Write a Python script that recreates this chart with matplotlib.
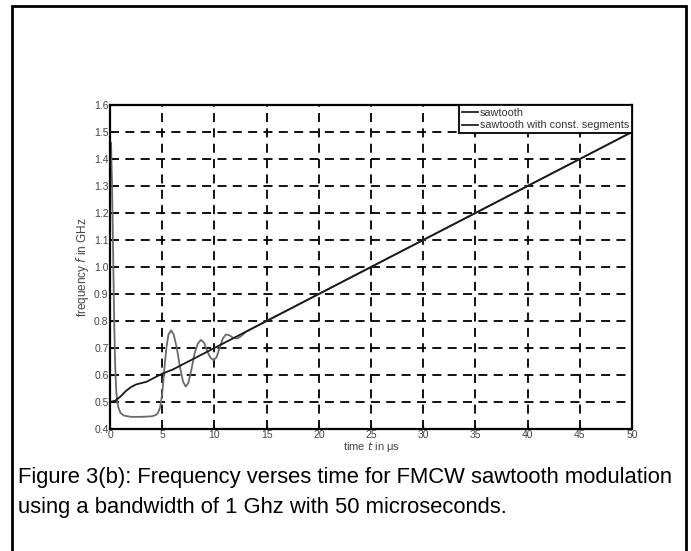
import matplotlib
matplotlib.use("Agg")
import matplotlib.pyplot as plt
from matplotlib.patches import Rectangle

plt.rcParams['font.family'] = ['Liberation Sans', 'DejaVu Sans']

# sawtooth (black)
t_saw = [0, 0.5, 1, 1.5, 2, 2.5, 3, 3.5, 4, 4.5, 5, 6, 7, 8, 10, 15, 20, 25, 30, 35, 40, 45, 50]
f_saw = [0.50, 0.505, 0.52, 0.54, 0.555, 0.565, 0.57, 0.575, 0.585, 0.595, 0.605, 0.62, 0.64, 0.66,
         0.70, 0.80, 0.90, 1.00, 1.10, 1.20, 1.30, 1.40, 1.50]

# sawtooth with const. segments (gray)
t_const = [0.1, 0.2, 0.3, 0.4, 0.5, 0.6, 0.7, 0.8, 1.0, 1.3, 2, 3, 4, 4.4, 4.6, 4.8, 5.0, 5.2, 5.4,
           5.6, 5.85, 6.1, 6.4, 6.7, 7.0, 7.25, 7.5, 7.8, 8.1, 8.4, 8.7, 9.0, 9.3, 9.6, 9.9, 10.2,
           10.5, 10.8, 11.1, 11.4, 11.8, 12.2, 12.6, 13.0, 13.5, 14, 15, 20, 25, 30, 35, 40, 45, 50]
f_const = [1.46, 1.30, 1.05, 0.80, 0.63, 0.54, 0.50, 0.48, 0.46, 0.45, 0.445, 0.445, 0.447, 0.452,
           0.46, 0.48, 0.53, 0.62, 0.70, 0.75, 0.765, 0.75, 0.70, 0.63, 0.575, 0.557, 0.57, 0.62,
           0.68, 0.715, 0.73, 0.72, 0.69, 0.665, 0.655, 0.665, 0.70, 0.735, 0.75, 0.748, 0.738,
           0.735, 0.745, 0.76, 0.77, 0.78, 0.80, 0.90, 1.00, 1.10, 1.20, 1.30, 1.40, 1.50]

x_ticks = list(range(0, 51, 5))
y_ticks = [0.4, 0.5, 0.6, 0.7, 0.8, 0.9, 1.0, 1.1, 1.2, 1.3, 1.4, 1.5, 1.6]
y_tick_labels = ['0.4', '0.5', '0.6', '0.7', '0.8', '0.9', '1.0', '1.1', '1.2', '1.3', '1.4', '1.5', '1.6']

fig = plt.figure(figsize=(6.91, 5.51), dpi=100)

# page frame around figure and caption
fig.patches.append(Rectangle((12 / 691, -0.05), 674 / 691, 1 - 6 / 551 + 0.05,
                             transform=fig.transFigure, fill=False, edgecolor='black', linewidth=2))

ax = fig.add_axes([110 / 691, 1 - 429 / 551, 522 / 691, 324 / 551])
ax.plot(t_const, f_const, color='#6a6a6a', linewidth=1.3, label='sawtooth with const. segments')
ax.plot(t_saw, f_saw, color='#1a1a1a', linewidth=1.3, label='sawtooth')
ax.set_xlim(0, 50)
ax.set_ylim(0.4, 1.6)
ax.set_xticks(x_ticks)
ax.set_yticks(y_ticks)
ax.set_yticklabels(y_tick_labels)
ax.tick_params(labelsize=7.5, labelcolor='#444444', direction='in', length=3, pad=1)
ax.grid(True, color='black', linestyle=(0, (5, 3.5)), linewidth=1.3)
for s in ax.spines.values():
    s.set_linewidth(1.6)

ax.set_xlabel('time $t$ in \u03bcs', fontsize=8, color='#444444', labelpad=0)
ax.set_ylabel('frequency $f$ in GHz', fontsize=8.5, color='#444444', labelpad=2)

handles, labels = ax.get_legend_handles_labels()
leg = ax.legend([handles[1], handles[0]], ['sawtooth', 'sawtooth with const. segments'],
                loc='upper right', fontsize=7.8, frameon=True, fancybox=False, framealpha=1,
                borderaxespad=0, handlelength=1.5, handletextpad=0.2, borderpad=0.25,
                labelspacing=0.25)
leg.get_frame().set_edgecolor('black')
leg.get_frame().set_linewidth(1.3)
for line in leg.get_lines():
    line.set_color('#222222')
for txt in leg.get_texts():
    txt.set_color('#333333')

fig.text(18 / 691, 1 - 477 / 551, 'Figure 3(b): Frequency verses time for FMCW sawtooth modulation',
         fontsize=15.8, va='center', ha='left')
fig.text(18 / 691, 1 - 507 / 551, 'using a bandwidth of 1 Ghz with 50 microseconds.',
         fontsize=15.8, va='center', ha='left')

fig.savefig('out.png', dpi=100)
